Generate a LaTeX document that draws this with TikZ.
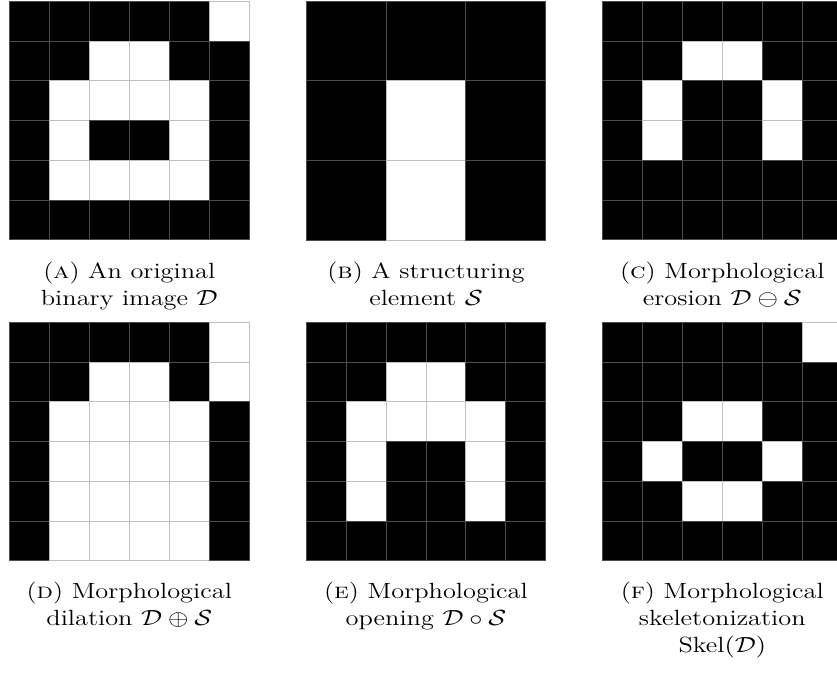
\documentclass[tikz,border=0pt]{standalone}
\usepackage{graphicx}
\usepackage{amssymb}
\tikzset{
  bcell/.style={fill=black, draw=black!70, line width=0.5pt},
  wcell/.style={fill=white, draw=black!25, line width=0.5pt},
  capt/.style={anchor=north, inner sep=0pt, align=center, font=\fontsize{11}{13.5}\selectfont},
}
% #1 x0, #2 y0, #3 cell width, #4 cell height, #5 rows
\newcommand\drawgrid[5]{%
  \foreach \row [count=\r from 0] in {#5} {
    \foreach \v [count=\c from 0] in \row {
      \ifnum\v=1
        \path[bcell] ({#1+\c*#3},{#2+\r*#4}) rectangle ++(#3,#4);
      \else
        \path[wcell] ({#1+\c*#3},{#2+\r*#4}) rectangle ++(#3,#4);
      \fi
    }
  }%
}
\newcommand\sx[1]{\scalebox{1.2}[1]{#1}}
\begin{document}
\begin{tikzpicture}[x=0.5pt, y=-0.5pt]
\useasboundingbox (0,0) rectangle (837,675);
\clip (0,0) rectangle (837,675);
% (A)
\drawgrid{9.3}{1.3}{40}{39.78}{{1,1,1,1,1,0},{1,1,0,0,1,1},{1,0,0,0,0,1},{1,0,1,1,0,1},{1,0,0,0,0,1},{1,1,1,1,1,1}}
% (B)
\drawgrid{306.7}{1.3}{79.53}{79.57}{{1,1,1},{1,0,1},{1,0,1}}
% (C)
\drawgrid{602.3}{1.3}{40}{39.78}{{1,1,1,1,1,1},{1,1,0,0,1,1},{1,0,1,1,0,1},{1,0,1,1,0,1},{1,1,1,1,1,1},{1,1,1,1,1,1}}
% (D)
\drawgrid{9.3}{322.3}{40}{39.78}{{1,1,1,1,1,0},{1,1,0,0,1,0},{1,0,0,0,0,1},{1,0,0,0,0,1},{1,0,0,0,0,1},{1,0,0,0,0,1}}
% (E)
\drawgrid{306.7}{322.3}{39.77}{39.78}{{1,1,1,1,1,1},{1,1,0,0,1,1},{1,0,0,0,0,1},{1,0,1,1,0,1},{1,0,1,1,0,1},{1,1,1,1,1,1}}
% (F)
\drawgrid{602.3}{322.3}{40}{39.78}{{1,1,1,1,1,0},{1,1,1,1,1,1},{1,1,0,0,1,1},{1,0,1,1,0,1},{1,1,0,0,1,1},{1,1,1,1,1,1}}
% captions
\node[capt] (capA) at (129.3,261.5) {\sx{(\textsc{a}) An original}\\\sx{binary image $\mathcal{D}$}};
\node[capt] (capB) at (426,261.5) {\sx{(\textsc{b}) A structuring}\\\sx{element $\mathcal{S}$}};
\node[capt] (capC) at (722.3,261.5) {\sx{(\textsc{c}) Morphological}\\\sx{erosion $\mathcal{D}\ominus\mathcal{S}$}};
\node[capt] (capD) at (129.3,581.5) {\sx{(\textsc{d}) Morphological}\\\sx{dilation $\mathcal{D}\oplus\mathcal{S}$}};
\node[capt] (capE) at (426,581.5) {\sx{(\textsc{e}) Morphological}\\\sx{opening $\mathcal{D}\circ\mathcal{S}$}};
\node[capt] (capF) at (722.3,581.5) {\sx{(\textsc{f}) Morphological}\\\sx{skeletonization}\\\sx{Skel$(\mathcal{D})$}};
\end{tikzpicture}
\end{document}
